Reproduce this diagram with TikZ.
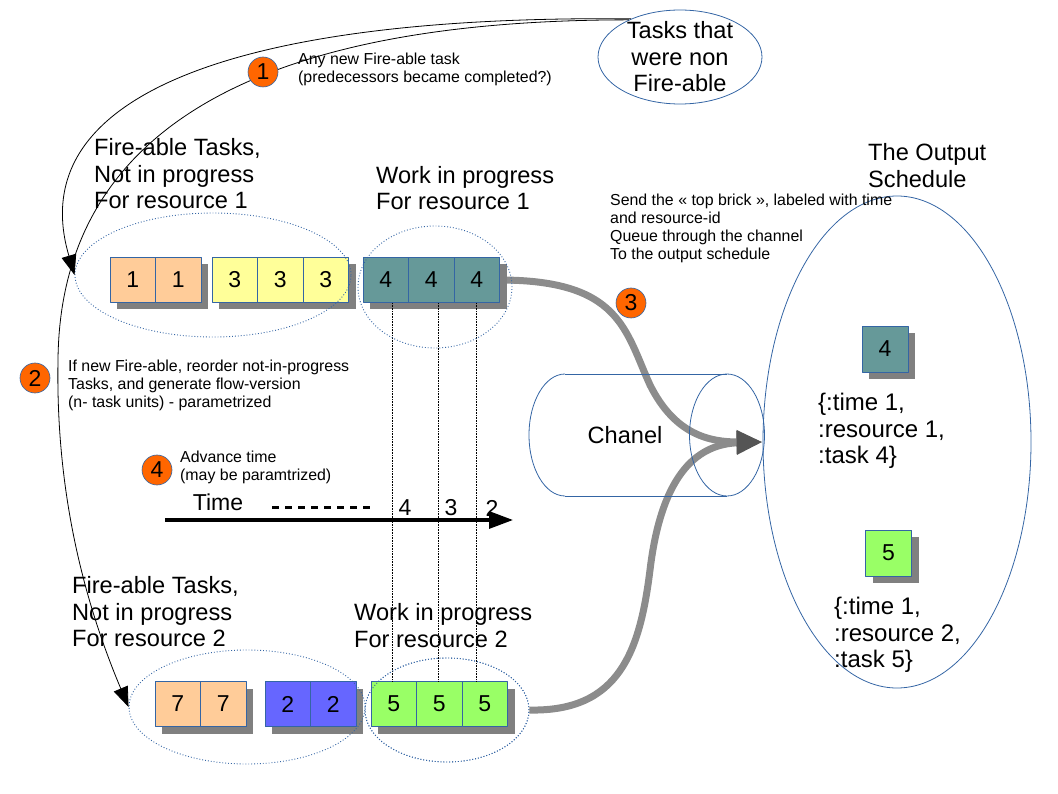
\documentclass[tikz,border=0pt]{standalone}
\usepackage{fontspec}
\setmainfont{Liberation Sans}
\usetikzlibrary{arrows.meta,shapes.geometric,shadows}
\providecommand{\Frame}{3465A4}
\providecommand{\Fire}{FF6600}
\providecommand{\Peach}{FFCC99}
\providecommand{\Lemon}{FFFF99}
\providecommand{\Slate}{669999}
\providecommand{\Iris}{6666FF}
\providecommand{\Leaf}{99FF66}
\newcommand{\Unit}{1pt}
\newcommand{\BigText}{\fontsize{23.6}{26.5}\selectfont}
\newcommand{\RecText}{\fontsize{24}{26.5}\selectfont}
\newcommand{\NumText}{\fontsize{23}{26}\selectfont}
\newcommand{\SmallText}{\fontsize{15.9}{18}\selectfont}
\definecolor{frame}{HTML}{\Frame}
\definecolor{fire}{HTML}{\Fire}
\definecolor{peach}{HTML}{\Peach}
\definecolor{lemon}{HTML}{\Lemon}
\definecolor{slate}{HTML}{\Slate}
\definecolor{iris}{HTML}{\Iris}
\definecolor{leaf}{HTML}{\Leaf}
\definecolor{shade}{HTML}{808080}
\definecolor{flowgray}{HTML}{8C8C8C}
\definecolor{flowtip}{HTML}{555555}

\begin{document}
\begin{tikzpicture}[x=\Unit,y=-\Unit, line join=round,
  brick/.style={draw=frame, line width=0.9pt, minimum width=45.5pt, minimum height=45pt,
    inner sep=0pt, font=\NumText,
    drop shadow={shadow xshift=7pt, shadow yshift=-7pt, fill=shade, opacity=1}},
  pool/.style={ellipse, draw=frame, dotted, line width=0.9pt, inner sep=0pt},
  ring/.style={ellipse, draw=frame, line width=0.8pt, inner sep=0pt},
  badge/.style={circle, fill=fire, draw=frame, line width=0.6pt, minimum size=30pt,
    inner sep=0pt, font=\NumText},
  caption/.style={anchor=west, align=left, inner sep=0pt, font=\BigText},
  note/.style={anchor=west, align=left, inner sep=0pt, font=\SmallText},
  hook/.style={black, line width=0.8pt, -{Triangle[length=20pt,width=15pt]}},
  flow/.style={flowgray, line width=7pt, -{Triangle[length=26pt,width=22pt,color=flowtip]}},
  guide/.style={black, densely dotted, line width=0.6pt}]

  \useasboundingbox (0,0) rectangle (1058,794);

  % ---- bricks, resource 1 and resource 2 ---------------------------------
  \foreach \i in {0,1}
    \node[brick,fill=peach] (a1\i) at (132.75+\i*45.5,280) {1};
  \foreach \i in {0,1,2}
    \node[brick,fill=lemon] (b1\i) at (234.75+\i*45.5,280) {3};
  \foreach \i in {0,1}
    \node[brick,fill=peach] (a2\i) at (177.75+\i*45.5,704) {7};
  \foreach \i in {0,1}
    \node[brick,fill=iris] (b2\i) at (287.75+\i*45.5,704) {2};

  % ---- the time axis, the guides run across it ---------------------------
  \coordinate (t0) at (165,520);
  \coordinate (t1) at (513,520);
  \draw[line width=3.2pt, -{Triangle[length=24pt,width=17pt]}] (t0) -- (t1);
  \draw[line width=3pt, dash pattern=on 7pt off 6pt] (272,507) -- (370,507);
  \node[font=\NumText] (time) at (218,502) {Time};
  \node[font=\NumText] (k4) at (405,508) {4};
  \node[font=\NumText] (k3) at (451,508) {3};
  \node[font=\NumText] (k2) at (492,508) {2};

  % ---- work in progress, with the flows leaving it ------------------------
  \node[ring,minimum width=268pt,minimum height=492pt] (sched) at (897,442) {};
  \node[pool,minimum width=164pt,minimum height=104pt] (wip2) at (447,710) {};
  \draw[flow] (wip2.east) .. controls (620,712) and (640,650) .. (650,570)
    .. controls (662,470) and (700,444) .. (sched.west);
  \draw[flow] (499.5,280) .. controls (620,280) and (625,330) .. (650,385)
    .. controls (675,435) and (710,442) .. (sched.west);
  \foreach \i in {0,1,2}
    \node[brick,fill=slate] (w1\i) at (385.75+\i*45.5,280) {4};
  \foreach \i in {0,1,2}
    \node[brick,fill=leaf] (w2\i) at (393.75+\i*45.5,704) {5};
  \foreach \i/\dx in {0/7,1/7,2/0}
    \draw[guide] ([xshift=\dx]w1\i.south) -- ([xshift=\dx]w1\i.south |- w2\i.north);

  % ---- the dotted pools ---------------------------------------------------
  \node[pool,minimum width=276pt,minimum height=124pt] (fire1) at (213,275) {};
  \node[pool,minimum width=154pt,minimum height=122pt] (wip1) at (435,287) {};
  \node[pool,minimum width=236pt,minimum height=114pt] (fire2) at (247,707) {};
  \node[pool,minimum width=164pt,minimum height=104pt] at (447,710) {};

  % ---- tasks that were not fire-able, and the two hooks back --------------
  \node[ring,minimum width=164pt,minimum height=94pt] (tasks) at (680,57) {};
  \node[font=\BigText,align=center] at (tasks) {Tasks that\\were non\\Fire-able};
  \draw[hook] (tasks.142) .. controls (250,15) and (20,90) .. (fire1.west);
  \draw[hook] (tasks.144) .. controls (240,20) and (60,140) .. (58,360)
    .. controls (56,470) and (75,580) .. (fire2.west);

  % ---- the channel --------------------------------------------------------
  \draw[frame,line width=0.8pt] (565,374) -- (727,374);
  \draw[frame,line width=0.8pt] (565,496) -- (727,496);
  \draw[frame,line width=0.8pt] (565,374) .. controls (545.1,374) and (529,401.3) .. (529,435)
    .. controls (529,468.7) and (545.1,496) .. (565,496);
  \draw[frame,line width=0.8pt] (727,435) ellipse [x radius=37.5, y radius=61];
  \node[font=\BigText] (chanel) at (625,435) {Chanel};

  % ---- the output schedule -----------------------------------------------
  \node[brick,fill=slate,minimum width=46pt,minimum height=46pt] (o4) at (885,349) {4};
  \node[brick,fill=leaf,minimum width=46pt,minimum height=46pt] (o5) at (888.5,553) {5};
  \node[caption,font=\RecText] (rec4) at (818,431) {\{:time 1,\\:resource 1,\\:task 4\}};
  \node[caption,font=\RecText] (rec5) at (834,635) {\{:time 1,\\:resource 2,\\:task 5\}};

  % ---- steps --------------------------------------------------------------
  \node[badge] (s1) at (263,72) {1};
  \node[badge] (s2) at (35,378) {2};
  \node[badge] (s3) at (631,303) {3};
  \node[badge] (s4) at (157,470) {4};
  \node[note] (n1) at (298,69.5) {Any new Fire-able task\\(predecessors became completed?)};
  \node[note] (n2) at (68,385) {If new Fire-able, reorder not-in-progress\\Tasks, and generate flow-version\\(n- task units) - parametrized};
  \node[note] (n3) at (610,228) {Send the « top brick », labeled with time\\and resource-id\\Queue through the channel\\To the output schedule};
  \node[note] (n4) at (180,467.5) {Advance time\\(may be paramtrized)};

  % ---- captions -----------------------------------------------------------
  \node[caption] (c1) at (94,174) {Fire-able Tasks,\\Not in progress\\For resource 1};
  \node[caption] (c2) at (376,188) {Work in progress\\For resource 1};
  \node[caption] (c3) at (72,612) {Fire-able Tasks,\\Not in progress\\For resource 2};
  \node[caption] (c4) at (354,625.5) {Work in progress\\For resource 2};
  \node[caption] (c5) at (868,165.5) {The Output\\Schedule};

\end{tikzpicture}
\end{document}
